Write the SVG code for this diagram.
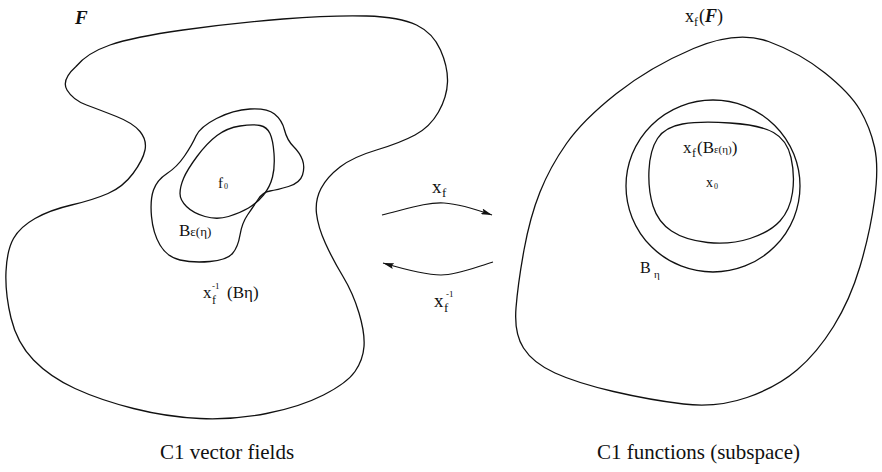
<svg xmlns="http://www.w3.org/2000/svg" width="882" height="472" viewBox="0 0 882 472">
<style>
.o{fill:none;stroke:#111;stroke-width:1.3;stroke-linejoin:round}
.c{fill:none;stroke:#111;stroke-width:1.2}
text{font-family:"Liberation Serif","Times New Roman",serif;fill:#111}
.cap{font-size:21px}
.bi{font-weight:bold;font-style:italic}
</style>
<defs>
<marker id="ah" markerUnits="userSpaceOnUse" markerWidth="11" markerHeight="6" refX="11" refY="3" orient="auto">
<path d="M0,0 L11,3 L0,6 L2,3 z" fill="#111"/>
</marker>
</defs>
<rect width="882" height="472" fill="#fff"/>

<g id="F-space">
<path class="o" d="M76,66.5 Q87,53 110,45 Q133,37 183,30 Q233,23 283,19 Q333,15 366.5,16 Q400,17 416.5,25 Q433,33 440.5,50 Q448,67 447.5,82 Q447,97 438.5,112 Q430,127 415,135 Q400,143 376.5,150 Q353,157 340,167 Q327,177 321,188.5 Q315,200 316.5,213.5 Q318,227 325.5,243.5 Q333,260 343,276.5 Q353,293 359,313 Q365,333 364,346.5 Q363,360 355,371.5 Q347,383 323.5,395 Q300,407 266.5,413.5 Q233,420 200,418.5 Q167,417 133.5,408.5 Q100,400 75,388.5 Q50,377 33.5,360 Q17,343 11,318 Q5,293 6,271.5 Q7,250 13.5,238.5 Q20,227 35,218.5 Q50,210 71.5,205 Q93,200 108,193.5 Q123,187 133,173.5 Q143,160 145,150 Q147,140 140,131.5 Q133,123 116.5,116.5 Q100,110 86.5,105 Q73,100 67,90 Q61,80 76,66.5 Z"/>
<text x="75" y="24" font-size="19" class="bi">F</text>
<text x="203" y="298" font-size="17">x</text>
<text x="212" y="304" font-size="12">f</text>
<text x="212" y="289" font-size="9">-1</text>
<text x="227" y="298" font-size="17">(Bη)</text>
<text x="160" y="459" class="cap">C1 vector fields</text>
</g>

<g id="B-eps">
<path class="o" d="M216.5,118.5 Q233,110 250,109 Q267,108 274.5,114 Q282,120 284.5,130 Q287,140 293.5,146.5 Q300,153 302.5,160 Q305,167 302.5,175 Q300,183 288.5,186.5 Q277,190 270,191 Q263,192 258,199.5 Q253,207 247.5,215 Q242,223 240,235 Q238,247 232.5,253.5 Q227,260 210,261.5 Q193,263 180,260 Q167,257 160,245 Q153,233 151.5,216.5 Q150,200 153.5,190 Q157,180 167,173.5 Q177,167 184.5,156 Q192,145 196,136 Q200,127 216.5,118.5 Z"/>
<text x="179" y="236" font-size="17">B<tspan font-size="13">ε(η)</tspan></text>
</g>

<g id="f0">
<path class="o" d="M183.5,178.5 Q187,170 197,156.5 Q207,143 217,135.5 Q227,128 240,126 Q253,124 260,125.5 Q267,127 270,133.5 Q273,140 274,153.5 Q275,167 272.5,177 Q270,187 263.5,195 Q257,203 248.5,208 Q240,213 228.5,216.5 Q217,220 205,216.5 Q193,213 186.5,206.5 Q180,200 180,193.5 Q180,187 183.5,178.5 Z"/>
<text x="218" y="188" font-size="15">f</text>
<text x="224" y="189" font-size="8">0</text>
</g>

<g id="xf-F">
<path class="o" d="M616.5,93.5 Q650,67 693.5,48.5 Q737,30 768.5,41.5 Q800,53 825,73 Q850,93 860,110 Q870,127 874.5,147 Q879,167 874.5,200 Q870,233 860,266.5 Q850,300 833.5,326.5 Q817,353 797,370 Q777,387 747,397.5 Q717,408 683.5,404 Q650,400 613.5,391.5 Q577,383 555,373 Q533,363 523.5,348 Q514,333 516,308 Q518,283 524,250 Q530,217 540,192 Q550,167 566.5,143.5 Q583,120 616.5,93.5 Z"/>
<text x="685" y="22" font-size="18">x</text>
<text x="694" y="26" font-size="12">f</text>
<text x="699" y="22" font-size="18">(<tspan class="bi">F</tspan>)</text>
<text x="597" y="459" class="cap">C1 functions (subspace)</text>
</g>

<g id="B-eta">
<ellipse class="o" cx="713" cy="186" rx="87" ry="86"/>
<text x="640" y="273" font-size="16">B</text>
<text x="654" y="278" font-size="11">η</text>
</g>

<g id="xf-Beps">
<path class="o" d="M730,123 Q760,125 773.5,132.5 Q787,140 791,157.5 Q795,175 792.5,192.5 Q790,210 780,221 Q770,232 750,238.5 Q730,245 707.5,242.5 Q685,240 671.5,231 Q658,222 653,206 Q648,190 649,170 Q650,150 657.5,138.5 Q665,127 682.5,124 Q700,121 730,123 Z"/>
<text x="683" y="153" font-size="17">x</text>
<text x="692" y="157" font-size="12">f</text>
<text x="697" y="153" font-size="17">(B<tspan font-size="11">ε(η)</tspan>)</text>
<text x="706" y="187" font-size="14">x</text>
<text x="714" y="189" font-size="8">0</text>
</g>

<g id="connectors">
<path class="c" d="M382,215 C410,208 428,202 444,203 C460,204 478,210 492,215" marker-end="url(#ah)"/>
<text x="432" y="193" font-size="19">x</text>
<text x="442" y="197" font-size="13">f</text>
<path class="c" d="M493,262 C476,267 458,275 441,275 C424,275 400,268 383,263" marker-end="url(#ah)"/>
<text x="434" y="307" font-size="19">x</text>
<text x="444" y="312" font-size="13">f</text>
<text x="446" y="297" font-size="9">-1</text>
</g>
</svg>
